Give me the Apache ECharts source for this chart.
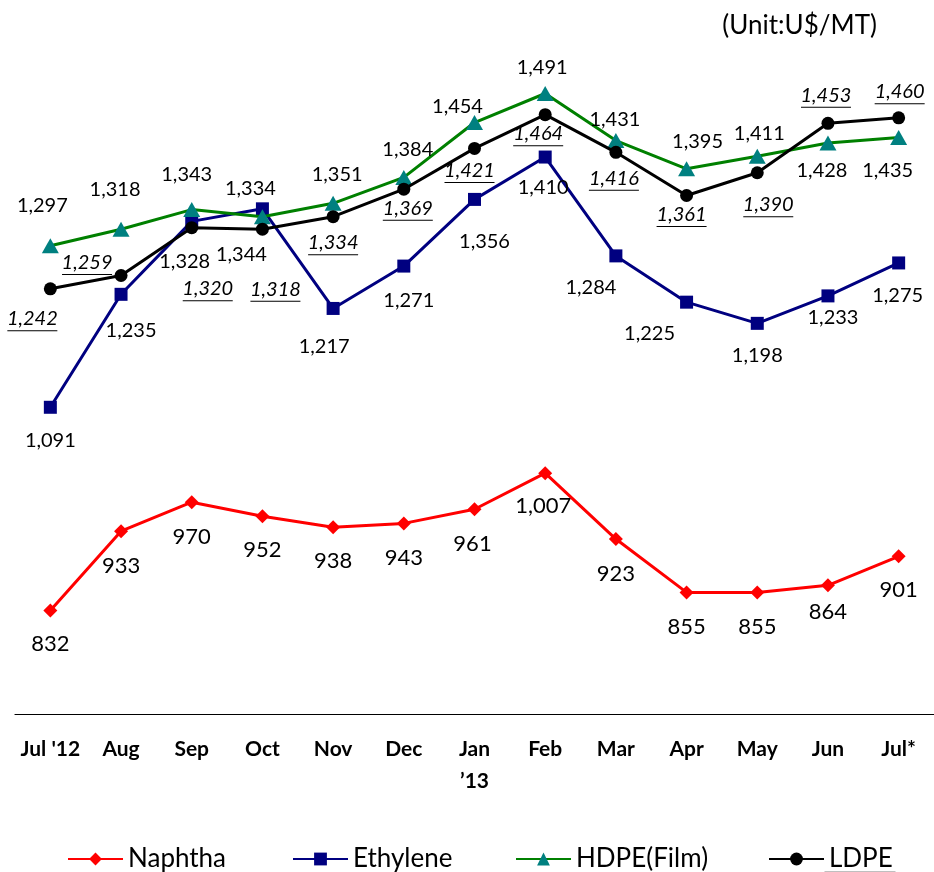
<!DOCTYPE html>
<html>
<head>
<meta charset="utf-8">
<script src="https://cdn.jsdelivr.net/npm/echarts@6/dist/echarts.min.js"></script>
<style>
  html, body { margin: 0; padding: 0; background: #fff; }
  #chart { width: 934px; height: 872px; }
</style>
</head>
<body>
<div id="chart"></div>
<script>
// Monthly prices, US$/MT
const months = ["Jul '12", 'Aug', 'Sep', 'Oct', 'Nov', 'Dec', 'Jan\n\u201913', 'Feb', 'Mar', 'Apr', 'May', 'Jun', 'Jul*'];
const naphtha  = [832, 933, 970, 952, 938, 943, 961, 1007, 923, 855, 855, 864, 901];
const ethylene = [1091, 1235, 1328, 1344, 1217, 1271, 1356, 1410, 1284, 1225, 1198, 1233, 1275];
const hdpeFilm = [1297, 1318, 1343, 1334, 1351, 1384, 1454, 1491, 1431, 1395, 1411, 1428, 1435];
const ldpe     = [1242, 1259, 1320, 1318, 1334, 1369, 1421, 1464, 1416, 1361, 1390, 1453, 1460];

// Value-label placement relative to each marker centre [dx, dy]
const naphthaLabelPos = [[0,33],[0,35],[0,35],[0,34],[0,34],[0,35],[-2,35],[-2,33],[0,35],[0,34],[0,34],[0,27],[0,34]];
const ethyleneLabelPos = [[0,33],[10,36],[-7,40],[-21,46],[-9,38],[5,34],[10,42],[-2,31],[-25,32],[-37,31],[0,32],[5,22],[-1,33]];
const hdpeLabelPos = [[-8,-40],[-6,-40],[-5,-35],[-12,-28],[4,-29],[4,-28],[-17,-16],[-3,-26],[-1,-21],[11,-27],[2,-23],[-6,28],[-11,33]];
const ldpeLabelPos = [[-18,31],[-34,-12],[16,62],[13,61],[0,27],[4,20],[-5,23],[-7,20],[-2,27],[-5,20],[11,33],[-2,-27],[1,-25]];

const FONT = 'Lato';
const fmt = v => v.toLocaleString('en-US');

function points(values, offsets) {
  return values.map((v, i) => ({ value: v, label: { offset: offsets[i] } }));
}

const plainLabel = size => ({
  show: true,
  position: 'inside',
  fontFamily: FONT,
  fontSize: size,
  color: '#000',
  formatter: p => fmt(p.value)
});

// LDPE values are shown in underlined italics
const underlinedLabel = {
  show: true,
  position: 'inside',
  formatter: p => '{v|' + fmt(p.value) + '}\n{u|}',
  rich: {
    v: { fontFamily: FONT, fontSize: 20, fontStyle: 'italic', color: '#000', lineHeight: 22 },
    u: { width: 50, height: 1, lineHeight: 2, backgroundColor: '#000' }
  }
};

const chart = echarts.init(document.getElementById('chart'), null, { renderer: 'canvas' });

const legendBase = {
  top: 841,
  itemWidth: 55,
  itemHeight: 16,
  itemGap: 0,
  textStyle: { fontFamily: FONT, fontSize: 26, color: '#000' }
};

chart.setOption({
  animation: false,
  backgroundColor: '#fff',
  title: {
    text: '(Unit:U$/MT)',
    right: 52,
    top: 8,
    textStyle: { fontFamily: FONT, fontSize: 26, fontWeight: 'normal', color: '#000' }
  },
  legend: [
    Object.assign({}, legendBase, { left: 62, data: ['Naphtha'] }),
    Object.assign({}, legendBase, { left: 287, data: ['Ethylene'] }),
    Object.assign({}, legendBase, { left: 510, data: ['HDPE(Film)'] }),
    Object.assign({}, legendBase, { left: 763, data: ['LDPE'] })
  ],
  grid: { left: 15, right: -7, top: 8, bottom: 158, containLabel: false },
  xAxis: {
    type: 'category',
    data: months,
    boundaryGap: true,
    axisLine: { lineStyle: { color: '#000', width: 1.2 } },
    axisTick: { show: false },
    axisLabel: {
      interval: 0,
      fontFamily: FONT,
      fontSize: 21,
      fontWeight: 'bold',
      color: '#000',
      lineHeight: 32,
      margin: 19
    }
  },
  yAxis: {
    type: 'value',
    min: 700,
    max: 1600,
    show: false,
    splitLine: { show: false }
  },
  series: [
    {
      name: 'Naphtha',
      type: 'line',
      data: points(naphtha, naphthaLabelPos),
      symbol: 'diamond',
      symbolSize: 14,
      lineStyle: { color: '#ff0000', width: 3 },
      itemStyle: { color: '#ff0000' },
      label: plainLabel(22),
      z: 2
    },
    {
      name: 'Ethylene',
      type: 'line',
      data: points(ethylene, ethyleneLabelPos),
      symbol: 'rect',
      symbolSize: 13,
      lineStyle: { color: '#000080', width: 3 },
      itemStyle: { color: '#000080' },
      label: plainLabel(20),
      z: 3
    },
    {
      name: 'HDPE(Film)',
      type: 'line',
      data: points(hdpeFilm, hdpeLabelPos),
      symbol: 'triangle',
      symbolSize: [17, 15],
      lineStyle: { color: '#008000', width: 3 },
      itemStyle: { color: '#008080' },
      label: plainLabel(20),
      z: 4
    },
    {
      name: 'LDPE',
      type: 'line',
      data: points(ldpe, ldpeLabelPos),
      symbol: 'circle',
      symbolSize: 13,
      lineStyle: { color: '#000000', width: 3 },
      itemStyle: { color: '#000000' },
      label: underlinedLabel,
      z: 5
    }
  ],
  graphic: [
    {
      // underline beneath the LDPE legend entry
      type: 'line',
      left: 822,
      top: 870,
      shape: { x1: 0, y1: 0, x2: 71, y2: 0 },
      style: { stroke: '#000', lineWidth: 1.5 }
    }
  ]
});
</script>
</body>
</html>
